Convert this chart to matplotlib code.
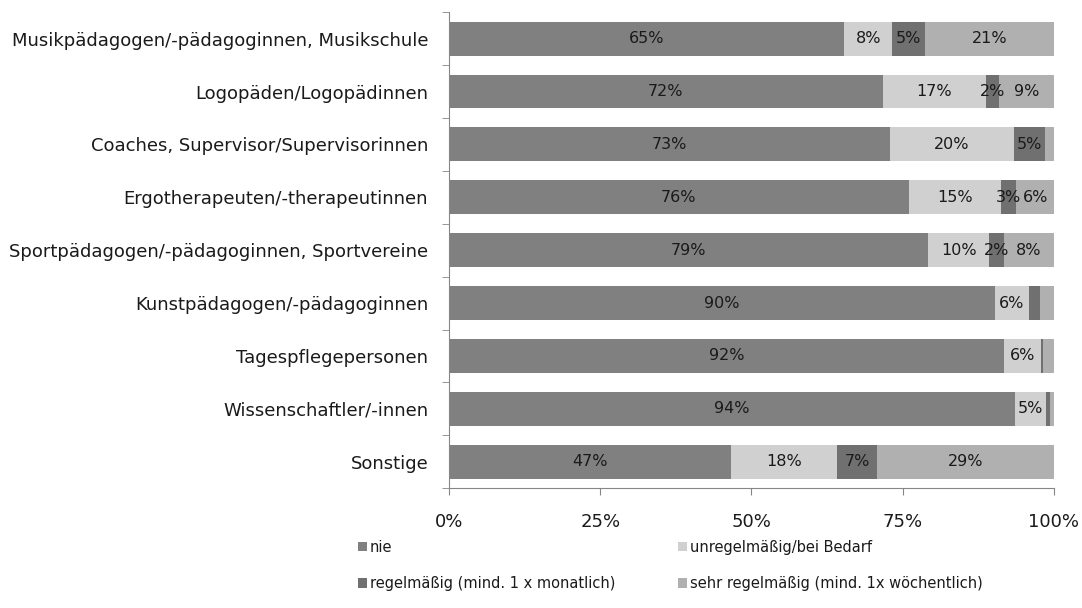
import numpy as np
import matplotlib
matplotlib.use("Agg")
import matplotlib.pyplot as plt

# categories from top to bottom
categories = [
    "Musikpädagogen/-pädagoginnen, Musikschule",
    "Logopäden/Logopädinnen",
    "Coaches, Supervisor/Supervisorinnen",
    "Ergotherapeuten/-therapeutinnen",
    "Sportpädagogen/-pädagoginnen, Sportvereine",
    "Kunstpädagogen/-pädagoginnen",
    "Tagespflegepersonen",
    "Wissenschaftler/-innen",
    "Sonstige",
]
series_names = [
    "nie",
    "unregelmäßig/bei Bedarf",
    "regelmäßig (mind. 1 x monatlich)",
    "sehr regelmäßig (mind. 1x wöchentlich)",
]
nie = [65.3, 71.7, 72.9, 76.0, 79.2, 90.2, 91.7, 93.6, 46.6]
unregelmaessig = [8.0, 17.1, 20.5, 15.2, 10.1, 5.7, 6.2, 5.1, 17.6]
regelmaessig = [5.4, 2.1, 5.2, 2.6, 2.4, 1.8, 0.3, 0.6, 6.6]
sehr_regelmaessig = [21.3, 9.1, 1.4, 6.2, 8.3, 2.3, 1.8, 0.7, 29.2]
# which segment labels are not shown in the original (row, series)
hidden_labels = {(2, 3), (5, 2), (5, 3), (6, 2), (6, 3), (7, 2), (7, 3)}

colors = ["#808080", "#d0d0d0", "#707070", "#b0b0b0"]
text_color = "#1a1a1a"

plt.rcParams['font.family'] = ['DejaVu Sans']

fig = plt.figure(figsize=(10.82, 6.08), dpi=100)
ax = fig.add_axes([0.415, 0.197, 0.559, 0.783])

data = np.array([nie, unregelmaessig, regelmaessig, sehr_regelmaessig])
y = np.arange(len(categories))
left = np.zeros(len(categories))
for s in range(4):
    ax.barh(y, data[s], left=left, height=0.64, color=colors[s],
            label=series_names[s], edgecolor="none")
    for i in range(len(categories)):
        if (i, s) in hidden_labels:
            continue
        ax.text(left[i] + data[s][i] / 2, y[i], f"{data[s][i]:.0f}%",
                ha="center", va="center", fontsize=11.5, color=text_color)
    left += data[s]

ax.set_ylim(len(categories) - 0.5, -0.5)
ax.set_xlim(0, 100)
ax.set_xticks([0, 25, 50, 75, 100])
ax.set_xticklabels(["0%", "25%", "50%", "75%", "100%"], fontsize=13, color=text_color)
ax.set_yticks(np.arange(len(categories) + 1) - 0.5, minor=True)
ax.set_yticks(y)
ax.set_yticklabels(categories, fontsize=13, color=text_color)
ax.tick_params(axis="y", which="major", length=0, pad=15)
ax.tick_params(axis="y", which="minor", length=5, color="#868686", direction="out")
ax.tick_params(axis="x", length=5, color="#868686", direction="out", pad=13)
for sp in ["top", "right"]:
    ax.spines[sp].set_visible(False)
for sp in ["left", "bottom"]:
    ax.spines[sp].set_color("#868686")

handles, labels = ax.get_legend_handles_labels()
order = [0, 2, 1, 3]
fig.legend([handles[k] for k in order], [labels[k] for k in order],
           ncol=2, loc="upper left", bbox_to_anchor=(0.331, 0.112),
           frameon=False, fontsize=10.5, handlelength=0.6, handleheight=0.6,
           handletextpad=0.2, columnspacing=4.3, labelspacing=1.45,
           borderpad=0, borderaxespad=0, labelcolor=text_color)

fig.savefig("out.png", dpi=100, facecolor="white")
